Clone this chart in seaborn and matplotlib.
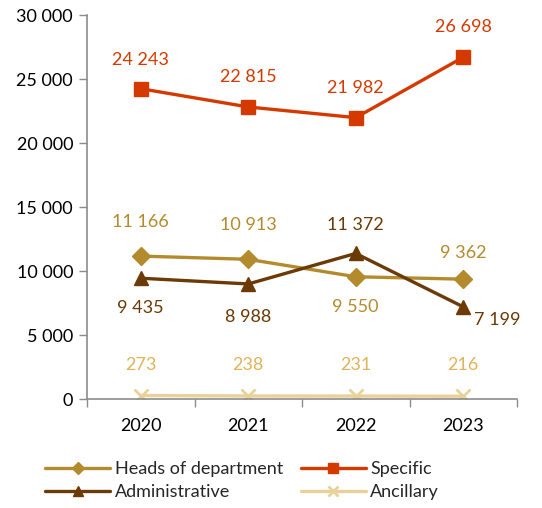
import matplotlib
matplotlib.use("Agg")
import matplotlib.pyplot as plt
import seaborn as sns
import pandas as pd
from matplotlib.ticker import FixedLocator, FuncFormatter

sns.set_theme(style="white")
plt.rcParams['font.family'] = ['Lato', 'DejaVu Sans']

years = ["2020", "2021", "2022", "2023"]
heads = [11166, 10913, 9550, 9362]
specific = [24243, 22815, 21982, 26698]
administrative = [9435, 8988, 11372, 7199]
ancillary = [273, 238, 231, 216]

series = [
    ("Heads of department", heads, "#B38B2D", "#B38B2D", "D", 9),
    ("Specific", specific, "#D43A00", "#D43A00", "s", 10),
    ("Administrative", administrative, "#6B3A06", "#6B3A06", "^", 10),
    ("Ancillary", ancillary, "#E8D29A", "#E0B45C", "x", 10),
]

# label offsets in pixels (dx, dy) per series and year, positive dy = up
offsets = {
    "Heads of department": [(0, 34), (0, 34), (0, -30), (0, 26)],
    "Specific": [(0, 29), (0, 30), (0, 30), (0, 30)],
    "Administrative": [(0, -30), (0, -33), (0, 28), (34, -13)],
    "Ancillary": [(0, 31), (0, 31), (0, 31), (0, 31)],
}

fig = plt.figure(figsize=(5.42, 5.08), dpi=100)
ax = fig.add_axes([87 / 542, 1 - 399 / 508, 430 / 542, 384 / 508])

for name, vals, color, lcolor, marker, ms in series:
    df = pd.DataFrame({"year": years, "value": vals})
    sns.lineplot(data=df, x="year", y="value", ax=ax, color=color, linewidth=2.4,
                 marker=marker, markersize=ms, markeredgecolor=color,
                 markerfacecolor=color, markeredgewidth=2 if marker == "x" else 1,
                 label=name, sort=False)
    for i, v in enumerate(vals):
        dx, dy = offsets[name][i]
        ax.annotate(f"{v:,}".replace(",", " "), (i, v),
                    xytext=(dx * 0.72, dy * 0.72), textcoords="offset points",
                    ha="center", va="center", fontsize=13, color=lcolor)

ax.set_xlim(-0.5, 3.5)
ax.set_ylim(0, 30000)
ax.yaxis.set_major_locator(FixedLocator(range(0, 30001, 5000)))
ax.yaxis.set_major_formatter(FuncFormatter(lambda v, p: f"{int(v):,}".replace(",", " ")))
ax.set_xlabel("")
ax.set_ylabel("")

ax.xaxis.set_minor_locator(FixedLocator([-0.5, 0.5, 1.5, 2.5, 3.5]))
ax.tick_params(axis="x", which="major", length=0, labelsize=13, pad=14, colors="black")
ax.tick_params(axis="x", which="minor", length=6, width=1, color="#8C8C8C", bottom=True)
ax.tick_params(axis="y", which="major", length=6, width=1, color="#8C8C8C", left=True,
               labelsize=13, pad=4, labelcolor="black")

for side in ["top", "right"]:
    ax.spines[side].set_visible(False)
for side in ["left", "bottom"]:
    ax.spines[side].set_color("#8C8C8C")
    ax.spines[side].set_linewidth(1.2)

handles, labels = ax.get_legend_handles_labels()
order = [0, 2, 1, 3]
leg = ax.legend([handles[i] for i in order], [labels[i] for i in order],
                ncol=2, loc="upper left", bbox_to_anchor=(-42 / 430, -62 / 384),
                frameon=False, fontsize=13, handlelength=3.6, handletextpad=0.25,
                columnspacing=1.0, labelspacing=0.4, borderaxespad=0, borderpad=0,
                markerscale=0.7)

fig.savefig("out.png", dpi=100)
